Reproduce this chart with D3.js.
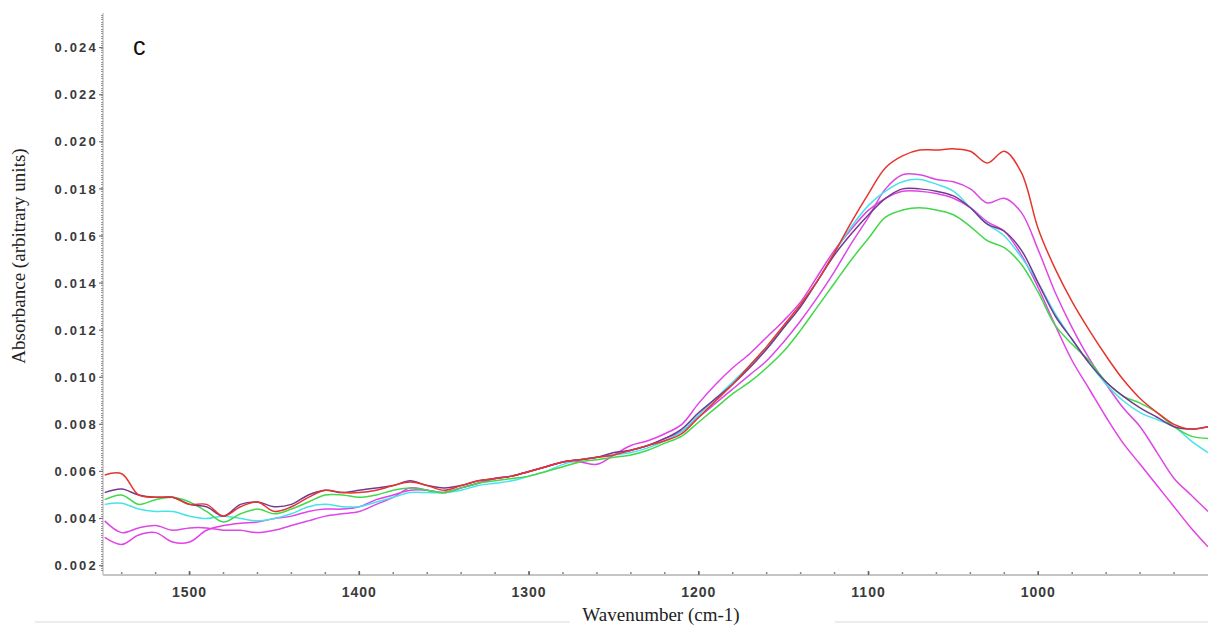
<!DOCTYPE html>
<html>
<head>
<meta charset="utf-8">
<script src="https://cdn.jsdelivr.net/npm/d3@7"></script>
<style>
  body { margin: 0; background: #fff; }
  svg { display: block; }
</style>
</head>
<body>
<svg id="chart" width="1208" height="627"></svg>
<script>

var wavenumbers = [1550, 1540, 1530, 1520, 1510, 1500, 1490, 1480, 1470, 1460,
  1450, 1440, 1430, 1420, 1410, 1400, 1390, 1380, 1370, 1360,
  1350, 1340, 1330, 1320, 1310, 1300, 1290, 1280, 1270, 1260,
  1250, 1240, 1230, 1220, 1210, 1200, 1190, 1180, 1170, 1160,
  1150, 1140, 1130, 1120, 1110, 1100, 1090, 1080, 1070, 1060,
  1050, 1040, 1030, 1020, 1010, 1000, 990, 980, 970, 960,
  950, 940, 930, 920, 910, 900];

var red = [0.00585, 0.0059, 0.0050, 0.0049, 0.0049, 0.0046, 0.0046, 0.0041, 0.0045, 0.0047,
  0.0043, 0.0045, 0.0049, 0.0052, 0.0051, 0.0051, 0.0052, 0.0054, 0.00555, 0.0054,
  0.0052, 0.0054, 0.0056, 0.0057, 0.0058, 0.0060, 0.0062, 0.0064, 0.0065, 0.0066,
  0.0067, 0.0069, 0.0071, 0.0073, 0.0076, 0.0083, 0.0090, 0.0097, 0.0105, 0.0113,
  0.0122, 0.0131, 0.0141, 0.0153, 0.0166, 0.0178, 0.0189, 0.0194, 0.01965, 0.01965,
  0.0197, 0.0196, 0.0191, 0.0196, 0.0187, 0.0163, 0.0146, 0.0132, 0.0120, 0.0109,
  0.0099, 0.0091, 0.0085, 0.0080, 0.0078, 0.0079];

var purple = [0.0051, 0.00525, 0.0050, 0.0049, 0.0049, 0.0046, 0.0045, 0.0041, 0.0046, 0.0047,
  0.0045, 0.0046, 0.0050, 0.0052, 0.0051, 0.0052, 0.0053, 0.0054, 0.0056, 0.0054,
  0.0053, 0.0054, 0.0056, 0.0057, 0.0058, 0.0060, 0.0062, 0.0064, 0.0065, 0.0066,
  0.0068, 0.0069, 0.0071, 0.0074, 0.0078, 0.0085, 0.0091, 0.0097, 0.0104, 0.0112,
  0.0121, 0.0130, 0.0141, 0.0152, 0.0161, 0.0169, 0.0176, 0.0180, 0.0180, 0.0179,
  0.0177, 0.0172, 0.0165, 0.0162, 0.0154, 0.0140, 0.0126, 0.0116, 0.0106, 0.0098,
  0.0092, 0.0087, 0.0083, 0.0079, 0.0078, 0.0079];

var cyan = [0.0046, 0.00465, 0.0044, 0.0043, 0.0043, 0.0041, 0.0040, 0.0041, 0.0040, 0.0039,
  0.0040, 0.0042, 0.0045, 0.0046, 0.0045, 0.0045, 0.0047, 0.0049, 0.0051, 0.0051,
  0.0051, 0.0052, 0.0054, 0.0055, 0.0056, 0.0058, 0.0060, 0.0063, 0.0065, 0.0066,
  0.0067, 0.0068, 0.0070, 0.0073, 0.0077, 0.0084, 0.0091, 0.0098, 0.0105, 0.0112,
  0.0121, 0.0130, 0.0141, 0.0153, 0.0164, 0.0173, 0.0179, 0.0183, 0.0184, 0.0182,
  0.0179, 0.0172, 0.0165, 0.0160, 0.0151, 0.0140, 0.0127, 0.0116, 0.0106, 0.0097,
  0.0090, 0.0085, 0.0082, 0.0079, 0.0073, 0.0068];

var green = [0.0048, 0.0050, 0.0046, 0.0048, 0.0049, 0.0047, 0.0043, 0.00385, 0.0042, 0.0044,
  0.0042, 0.0044, 0.0047, 0.0050, 0.0050, 0.0049, 0.0050, 0.0052, 0.0053, 0.0052,
  0.0051, 0.0053, 0.0055, 0.0056, 0.0057, 0.0058, 0.0060, 0.0062, 0.0064, 0.0065,
  0.0066, 0.0067, 0.0069, 0.0072, 0.0075, 0.0081, 0.0087, 0.0093, 0.0098, 0.0104,
  0.0111, 0.0120, 0.0130, 0.0140, 0.0150, 0.0159, 0.0168, 0.0171, 0.0172, 0.0171,
  0.0169, 0.0164, 0.0158, 0.0155, 0.0148, 0.0136, 0.0122, 0.0114, 0.0107, 0.0098,
  0.0092, 0.0089, 0.0085, 0.0079, 0.0075, 0.0074];

var magentaA = [0.0039, 0.0034, 0.0036, 0.0037, 0.0035, 0.0036, 0.0036, 0.0035, 0.0035, 0.0034,
  0.0035, 0.0037, 0.0039, 0.0041, 0.0042, 0.0043, 0.0046, 0.0049, 0.0053, 0.0052,
  0.0051, 0.0053, 0.0055, 0.0057, 0.0058, 0.0060, 0.0062, 0.0064, 0.0065, 0.0066,
  0.0067, 0.0069, 0.0071, 0.0074, 0.0077, 0.0083, 0.0089, 0.0095, 0.0101, 0.0107,
  0.0115, 0.0124, 0.0134, 0.0145, 0.0157, 0.0168, 0.0180, 0.0186, 0.0186, 0.0184,
  0.0183, 0.0180, 0.0174, 0.0176, 0.0170, 0.0154, 0.0136, 0.0121, 0.0108, 0.0097,
  0.0087, 0.0079, 0.0068, 0.0057, 0.0050, 0.0043];

var magentaB = [0.0032, 0.0029, 0.0033, 0.0034, 0.0030, 0.0030, 0.0035, 0.0037, 0.0038, 0.00385,
  0.0040, 0.0041, 0.0043, 0.0044, 0.0044, 0.0045, 0.0048, 0.0050, 0.0052, 0.0052,
  0.0051, 0.0053, 0.0055, 0.0057, 0.0058, 0.0060, 0.0062, 0.0064, 0.0064, 0.0063,
  0.0067, 0.0071, 0.0073, 0.0076, 0.0080, 0.0089, 0.0097, 0.0104, 0.0110, 0.0117,
  0.0124, 0.0132, 0.0143, 0.0154, 0.0163, 0.0171, 0.0176, 0.0179, 0.0179, 0.0178,
  0.0176, 0.0172, 0.0166, 0.0162, 0.0152, 0.0138, 0.0122, 0.0107, 0.0095, 0.0083,
  0.0072, 0.0063, 0.0054, 0.0045, 0.0036, 0.0028];

var seriesNames = ["magentaB", "magentaA", "cyan", "green", "purple", "red"];
var seriesValues = [magentaB, magentaA, cyan, green, purple, red];
var seriesColors = ["#e242e6", "#dc48e4", "#45e3ea", "#42d84a", "#73398f", "#e5352c"];

var yTicks = [0.002, 0.004, 0.006, 0.008, 0.010, 0.012, 0.014, 0.016, 0.018, 0.020, 0.022, 0.024];
var xTicks = [1500, 1400, 1300, 1200, 1100, 1000];

var plotLeft = 103, plotRight = 1208, plotTop = 13, plotBottom = 575;

var svg = d3.select("#chart");

var x = d3.scaleLinear().domain([1551, 900]).range([plotLeft, plotRight]);
var y = d3.scaleLinear().domain([0.0016, 0.02547]).range([plotBottom, plotTop]);

// faint page rule at the very bottom
svg.append("line").attr("x1", 35).attr("x2", 570).attr("y1", 622).attr("y2", 622)
  .attr("stroke", "#ececec").attr("stroke-width", 2);
svg.append("line").attr("x1", 835).attr("x2", 1208).attr("y1", 622).attr("y2", 622)
  .attr("stroke", "#ececec").attr("stroke-width", 2);

svg.append("clipPath").attr("id", "plotClip")
  .append("rect").attr("x", plotLeft).attr("y", plotTop)
  .attr("width", plotRight - plotLeft).attr("height", plotBottom - plotTop);

// y axis
var yAxis = svg.append("g").attr("class", "y-axis");
yAxis.append("line").attr("x1", plotLeft).attr("x2", plotLeft).attr("y1", plotTop).attr("y2", plotBottom)
  .attr("stroke", "#c4c4c4").attr("stroke-width", 1.5);
var yMinor = d3.range(18, 255).map(function(i){ return i / 10000; });
yAxis.selectAll(".minor").data(yMinor).enter().append("line")
  .attr("class", "minor")
  .attr("x1", plotLeft - 2).attr("x2", plotLeft)
  .attr("y1", function(d){ return Math.round(y(d)) + 0.5; })
  .attr("y2", function(d){ return Math.round(y(d)) + 0.5; })
  .attr("stroke", "#999").attr("stroke-width", 1);
yAxis.selectAll(".major").data(yTicks).enter().append("line")
  .attr("class", "major")
  .attr("x1", plotLeft - 4).attr("x2", plotLeft)
  .attr("y1", function(d){ return y(d); })
  .attr("y2", function(d){ return y(d); })
  .attr("stroke", "#777").attr("stroke-width", 1.2);
yAxis.selectAll("text").data(yTicks).enter().append("text")
  .attr("x", plotLeft - 5)
  .attr("y", function(d){ return y(d); })
  .attr("dy", "0.36em")
  .attr("text-anchor", "end")
  .style("font-family", "'Liberation Sans', Arial, sans-serif")
  .style("font-size", "13px")
  .style("font-weight", "bold")
  .style("letter-spacing", "2.2px")
  .attr("fill", "#3a3a3a")
  .text(function(d){ return d3.format(".3f")(d); });

// x axis
var xAxis = svg.append("g").attr("class", "x-axis");
xAxis.append("line").attr("x1", plotLeft).attr("x2", plotRight).attr("y1", plotBottom).attr("y2", plotBottom)
  .attr("stroke", "#c4c4c4").attr("stroke-width", 2);
var xMinor = d3.range(1540, 900, -20);
xAxis.selectAll(".minor").data(xMinor).enter().append("line")
  .attr("class", "minor")
  .attr("x1", function(d){ return x(d); }).attr("x2", function(d){ return x(d); })
  .attr("y1", plotBottom - 3).attr("y2", plotBottom - 1)
  .attr("stroke", "#888").attr("stroke-width", 1.5);
xAxis.selectAll(".major").data(xTicks).enter().append("line")
  .attr("class", "major")
  .attr("x1", function(d){ return x(d); }).attr("x2", function(d){ return x(d); })
  .attr("y1", plotBottom - 4).attr("y2", plotBottom)
  .attr("stroke", "#666").attr("stroke-width", 1.5);
xAxis.selectAll("text").data(xTicks).enter().append("text")
  .attr("x", function(d){ return x(d); })
  .attr("y", 597)
  .attr("text-anchor", "middle")
  .style("font-family", "'Liberation Sans', Arial, sans-serif")
  .style("font-size", "14px")
  .style("font-weight", "bold")
  .style("letter-spacing", "1px")
  .attr("fill", "#3a3a3a")
  .text(function(d){ return d; });

// spectra
var line = d3.line()
  .x(function(d, i){ return x(wavenumbers[i]); })
  .y(function(d){ return y(d); })
  .curve(d3.curveCatmullRom.alpha(0.5));

svg.append("g").attr("clip-path", "url(#plotClip)")
  .selectAll("path").data(seriesValues).enter().append("path")
  .attr("class", function(d, i){ return seriesNames[i]; })
  .attr("d", line)
  .attr("fill", "none")
  .attr("stroke", function(d, i){ return seriesColors[i]; })
  .attr("stroke-width", 1.5)
  .attr("stroke-linejoin", "round");

// titles
svg.append("text")
  .attr("transform", "translate(25,256) rotate(-90)")
  .attr("text-anchor", "middle")
  .style("font-family", "'Liberation Serif', 'Times New Roman', serif")
  .style("font-size", "19px")
  .attr("fill", "#222")
  .text("Absorbance (arbitrary units)");

svg.append("text")
  .attr("x", 661).attr("y", 621)
  .attr("text-anchor", "middle")
  .style("font-family", "'Liberation Serif', 'Times New Roman', serif")
  .style("font-size", "19px")
  .attr("fill", "#222")
  .text("Wavenumber (cm-1)");

svg.append("text")
  .attr("x", 133).attr("y", 55)
  .style("font-family", "'Liberation Sans', Arial, sans-serif")
  .style("font-size", "25px")
  .attr("fill", "#111")
  .text("c");

</script>
</body>
</html>
